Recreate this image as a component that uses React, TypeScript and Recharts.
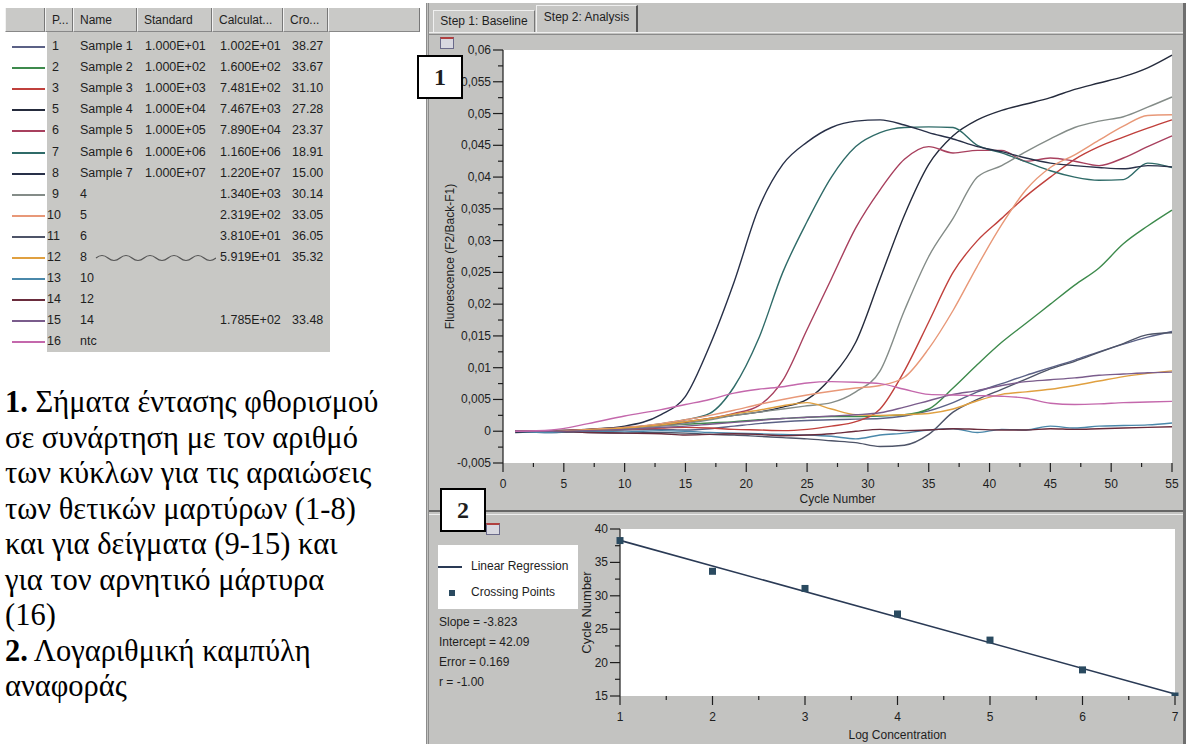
import React from 'react';
import { LineChart, Line, XAxis, YAxis, CartesianGrid, ComposedChart, Scatter } from 'recharts';

// amplification curves, values read at these cycles
const cycles = [1, 4, 7, 10, 13, 15, 17, 19, 21, 23, 25, 27, 29, 31, 33, 35, 37, 39, 41, 43, 45, 47, 49, 51, 53, 55];

const p1 = [0, -0.0002, 0, 0.0002, 0.0003, 0.0002, 0.0004, 0.0008, 0.0012, 0.0015, 0.0017, 0.0018, 0.0019, 0.002, 0.0024, 0.0032, 0.0045, 0.0062, 0.0075, 0.0088, 0.01, 0.0112, 0.0125, 0.0137, 0.0148, 0.0157];
const p2 = [0, 0.0001, 0.0003, 0.0006, 0.0009, 0.0011, 0.0013, 0.0015, 0.0018, 0.002, 0.0022, 0.0023, 0.0023, 0.0024, 0.0026, 0.0035, 0.0068, 0.0105, 0.014, 0.017, 0.02, 0.023, 0.0257, 0.0295, 0.0323, 0.0348];
const p3 = [0, 0, 0.0002, 0.0003, 0.0005, 0.0006, 0.0005, 0.0003, 0.0002, 0.0001, 0.0003, 0.0008, 0.0015, 0.0035, 0.0095, 0.0172, 0.025, 0.03, 0.0335, 0.037, 0.04, 0.0428, 0.0448, 0.0463, 0.0477, 0.049];
const p5 = [0, 0, 0.0002, 0.0005, 0.001, 0.0014, 0.002, 0.0025, 0.003, 0.0038, 0.005, 0.0085, 0.014, 0.024, 0.034, 0.042, 0.0465, 0.049, 0.0505, 0.0515, 0.0525, 0.0538, 0.0548, 0.0558, 0.0572, 0.0592];
const p6 = [0, 0.0001, 0.0003, 0.0006, 0.001, 0.0015, 0.002, 0.0028, 0.004, 0.008, 0.016, 0.024, 0.032, 0.038, 0.0428, 0.0448, 0.0438, 0.0442, 0.0442, 0.0425, 0.043, 0.0425, 0.0418, 0.043, 0.0448, 0.0465];
const p7 = [0, 0, 0.0002, 0.0005, 0.0012, 0.0018, 0.0028, 0.007, 0.0145, 0.025, 0.033, 0.04, 0.0448, 0.047, 0.0478, 0.0479, 0.0478, 0.045, 0.0438, 0.0424, 0.041, 0.04, 0.0395, 0.0396, 0.0422, 0.0415];
const p8 = [-0.0002, 0, 0.0003, 0.0008, 0.0026, 0.0055, 0.0135, 0.0235, 0.035, 0.042, 0.0455, 0.0478, 0.0488, 0.049, 0.0482, 0.047, 0.046, 0.0448, 0.044, 0.043, 0.0422, 0.0418, 0.0415, 0.0413, 0.0418, 0.0416];
const p9 = [0, 0, 0.0001, 0.0003, 0.0008, 0.0012, 0.0018, 0.0025, 0.003, 0.0035, 0.004, 0.0045, 0.0062, 0.0095, 0.019, 0.0275, 0.0335, 0.04, 0.0418, 0.044, 0.046, 0.0478, 0.0488, 0.0495, 0.051, 0.0526];
const p10 = [0, 0, 0.0003, 0.0006, 0.0012, 0.0018, 0.0025, 0.0033, 0.0042, 0.005, 0.0057, 0.0063, 0.0068, 0.0072, 0.0085, 0.013, 0.019, 0.026, 0.0325, 0.038, 0.0415, 0.0435, 0.0458, 0.048, 0.0497, 0.0498];
const p11 = [0, 0, -0.0002, -0.0003, -0.0002, -0.0003, -0.0005, -0.0006, -0.0008, -0.001, -0.0012, -0.0015, -0.0018, -0.0024, -0.0022, -0.0005, 0.003, 0.005, 0.0066, 0.0082, 0.0098, 0.011, 0.0124, 0.0138, 0.0152, 0.0155];
const p12 = [0, 0, 0.0002, 0.0005, 0.001, 0.0015, 0.002, 0.0027, 0.0033, 0.004, 0.0045, 0.0035, 0.0026, 0.0025, 0.0026, 0.0028, 0.0035, 0.0048, 0.0058, 0.0062, 0.0066, 0.0072, 0.0079, 0.0086, 0.0091, 0.0095];
const p13 = [0, -0.0002, 0, -0.0001, 0.0001, 0, -0.0002, -0.0003, -0.0004, -0.0005, -0.0006, -0.0008, -0.0012, -0.0006, -0.0003, 0.0002, 0.0004, -0.0002, 0.0003, 0.0002, 0.0008, 0.0005, 0.0008, 0.0009, 0.001, 0.0013];
const p14 = [0, 0, -0.0002, -0.0003, -0.0004, -0.0006, -0.0005, -0.0004, -0.0005, -0.0007, -0.0006, -0.0004, 0, 0.0003, 0.0001, 0.0002, 0.0004, 0.0003, 0.0002, 0.0002, 0.0004, 0.0003, 0.0004, 0.0005, 0.0006, 0.0007];
const p15 = [0, 0, 0.0001, 0.0003, 0.0006, 0.0008, 0.0011, 0.0014, 0.0017, 0.002, 0.0022, 0.0024, 0.0026, 0.0029, 0.0038, 0.0048, 0.0058, 0.0064, 0.0072, 0.0078, 0.0081, 0.0084, 0.0088, 0.009, 0.0092, 0.0093];
const p16 = [0, 0.0002, 0.0012, 0.0024, 0.0034, 0.0042, 0.005, 0.006, 0.0066, 0.007, 0.0076, 0.0078, 0.0077, 0.0075, 0.0066, 0.0058, 0.0057, 0.0056, 0.0055, 0.0052, 0.0044, 0.0042, 0.0043, 0.0045, 0.0046, 0.0047];

// sample table
const tablePos = ['1', '2', '3', '5', '6', '7', '8', '9', '10', '11', '12', '13', '14', '15', '16'];
const tableName = ['Sample 1', 'Sample 2', 'Sample 3', 'Sample 4', 'Sample 5', 'Sample 6', 'Sample 7', '4', '5', '6', '8', '10', '12', '14', 'ntc'];
const tableStandard = ['1.000E+01', '1.000E+02', '1.000E+03', '1.000E+04', '1.000E+05', '1.000E+06', '1.000E+07', '', '', '', '', '', '', '', ''];
const tableCalc = ['1.002E+01', '1.600E+02', '7.481E+02', '7.467E+03', '7.890E+04', '1.160E+06', '1.220E+07', '1.340E+03', '2.319E+02', '3.810E+01', '5.919E+01', '', '', '1.785E+02', ''];
const tableCp = ['38.27', '33.67', '31.10', '27.28', '23.37', '18.91', '15.00', '30.14', '33.05', '36.05', '35.32', '', '', '33.48', ''];
const seriesValues = [p1, p2, p3, p5, p6, p7, p8, p9, p10, p11, p12, p13, p14, p15, p16];
const seriesColors = ['#5b6186', '#3d8a4c', '#c0403c', '#252b3c', '#a8405e', '#2f6b68', '#283048', '#848c88', '#e89878', '#4e5468', '#e0a040', '#4a88aa', '#6a2c3c', '#7a5c8c', '#c468ac'];

// top chart ticks
const topYMajor = [-0.005, 0, 0.005, 0.01, 0.015, 0.02, 0.025, 0.03, 0.035, 0.04, 0.045, 0.05, 0.055, 0.06];
const topXMajor = [0, 5, 10, 15, 20, 25, 30, 35, 40, 45, 50, 55];

// standard curve
const logConc = [1, 2, 3, 4, 5, 6, 7];
const crossing = [38.27, 33.67, 31.1, 27.28, 23.37, 18.91, 15.0];
const regX = [1, 7];
const regY = [38.3, 15.3];
const botYMajor = [15, 20, 25, 30, 35, 40];
const botXMajor = [1, 2, 3, 4, 5, 6, 7];
const regStats = ['Slope = -3.823', 'Intercept = 42.09', 'Error = 0.169', 'r = -1.00'];

const captionLines: [string, string][] = [
  ['1.', ' Σήματα έντασης φθορισμού'],
  ['', 'σε συνάρτηση με τον αριθμό'],
  ['', 'των κύκλων για τις αραιώσεις'],
  ['', 'των θετικών μαρτύρων (1-8)'],
  ['', 'και για δείγματα (9-15) και'],
  ['', 'για τον αρνητικό μάρτυρα'],
  ['', '(16)'],
  ['2.', ' Λογαριθμική καμπύλη'],
  ['', 'αναφοράς'],
];

const curveData = cycles.map((c, i) => {
  const row: any = { cycle: c };
  seriesValues.forEach((vals, k) => { row['p' + tablePos[k]] = vals[i]; });
  return row;
});
const pointData = logConc.map((x, i) => ({ x, y: crossing[i] }));
const regData = regX.map((x, i) => ({ x, y: regY[i] }));

const withMinor = (major: number[], step: number) => {
  const out: number[] = [];
  major.forEach((v, i) => {
    out.push(v);
    if (i < major.length - 1) out.push(+(v + step / 2).toFixed(5));
  });
  return out;
};
const isIn = (list: number[], v: number) => list.some((m) => Math.abs(m - v) < 1e-7);

const SANS = '"Liberation Sans", Arial, sans-serif';
const INK = '#1e1e1e';
const fmtComma = (v: number) => String(+v.toFixed(4)).replace('.', ',');

const YTick = ({ x, y, payload, major, fmt }: any) => {
  const m = isIn(major, payload.value);
  const len = m ? 10 : 5;
  return (
    <g>
      <line x1={x - len} y1={y} x2={x} y2={y} stroke={INK} strokeWidth={1.2} />
      {m && (
        <text x={x - 12} y={y + 4} textAnchor="end" fontSize={12} fill={INK} fontFamily={SANS}>
          {fmt(payload.value)}
        </text>
      )}
    </g>
  );
};

const XTick = ({ x, y, payload, major }: any) => {
  const m = isIn(major, payload.value);
  const len = m ? 9 : 4;
  return (
    <g>
      <line x1={x} y1={y} x2={x} y2={y + len} stroke={INK} strokeWidth={1.2} />
      {m && (
        <text x={x} y={y + 25} textAnchor="middle" fontSize={12} fill={INK} fontFamily={SANS}>
          {payload.value}
        </text>
      )}
    </g>
  );
};

const SquareDot = (props: any) => (
  <rect x={props.cx - 3.5} y={props.cy - 3.5} width={7} height={7} fill="#2a4a60" />
);

const NumBox = ({ left, top, n }: { left: number; top: number; n: string }) => (
  <div style={{ position: 'absolute', left, top, width: 46, height: 44, background: '#fff', border: '2px solid #000', boxSizing: 'border-box', display: 'flex', alignItems: 'center', justifyContent: 'center', fontFamily: '"Liberation Serif", serif', fontWeight: 'bold', fontSize: 24 }}>
    {n}
  </div>
);

const Icon = ({ left, top }: { left: number; top: number }) => (
  <div style={{ position: 'absolute', left, top, width: 14, height: 12, border: '1px solid #6a6a8a', borderTop: '2px solid #b04040', background: '#d8d8e0', boxSizing: 'border-box' }} />
);

const App = () => {
  const topYTicks = withMinor(topYMajor, 0.005);
  const topXTicks = withMinor(topXMajor, 5);
  const botYTicks = withMinor(botYMajor, 5);
  const botXTicks = withMinor(botXMajor, 1);
  const headerCols = [
    { x: 5, w: 40, t: '' },
    { x: 45, w: 28, t: 'P...' },
    { x: 73, w: 64, t: 'Name' },
    { x: 137, w: 75, t: 'Standard' },
    { x: 212, w: 71, t: 'Calculat...' },
    { x: 283, w: 45, t: 'Cro...' },
    { x: 328, w: 92, t: '' },
  ];

  return (
    <div style={{ position: 'absolute', left: 0, top: 0, width: 1195, height: 744, background: '#fff', overflow: 'hidden', fontFamily: SANS, color: INK }}>
      {/* table header */}
      {headerCols.map((c, i) => (
        <div key={i} style={{ position: 'absolute', left: c.x, top: 8, width: c.w, height: 24, background: '#c9c9c7', borderRight: '1px solid #777', borderLeft: '1px solid #f2f2f2', borderBottom: '1px solid #888', boxSizing: 'border-box', fontSize: 12, lineHeight: '24px', paddingLeft: 6, whiteSpace: 'nowrap', overflow: 'hidden' }}>
          {c.t}
        </div>
      ))}
      <div style={{ position: 'absolute', left: 47, top: 32, width: 283, height: 320, background: '#c8c8c5' }} />
      {tablePos.map((p, i) => {
        const top = 36 + i * 21.1;
        return (
          <div key={p} style={{ position: 'absolute', left: 0, top, width: 330, height: 21, fontSize: 12.5, lineHeight: '21px' }}>
            <div style={{ position: 'absolute', left: 12, top: 10, width: 33, height: 2, background: seriesColors[i] }} />
            <div style={{ position: 'absolute', left: p.length > 1 ? 47 : 52 }}>{p}</div>
            <div style={{ position: 'absolute', left: 80 }}>{tableName[i]}</div>
            <div style={{ position: 'absolute', left: 145 }}>{tableStandard[i]}</div>
            <div style={{ position: 'absolute', left: 220 }}>{tableCalc[i]}</div>
            <div style={{ position: 'absolute', left: 292 }}>{tableCp[i]}</div>
          </div>
        );
      })}
      <svg style={{ position: 'absolute', left: 94, top: 252 }} width={122} height={12}>
        <path d="M2 6 q6 -5 12 0 t12 0 t12 0 t12 0 t12 0 t12 0 t12 0 t12 0 t12 0 t12 0" fill="none" stroke="#555" strokeWidth={1.2} />
      </svg>

      {/* caption */}
      <div style={{ position: 'absolute', left: 5, top: 385, width: 415, fontFamily: '"Liberation Serif", "Times New Roman", serif', fontSize: 30.5, lineHeight: '35.5px', color: '#000' }}>
        {captionLines.map(([b, t], i) => (
          <div key={i} style={{ whiteSpace: 'nowrap' }}>
            {b && <b>{b}</b>}
            {t}
          </div>
        ))}
      </div>

      {/* window */}
      <div style={{ position: 'absolute', left: 426, top: 3, width: 760, height: 741, background: '#c3c3c1', borderLeft: '3px double #8c8c8c', borderRight: '3px solid #6e6e6e', boxSizing: 'border-box' }} />
      <div style={{ position: 'absolute', left: 433, top: 10, width: 102, height: 22, background: '#cbcbc9', borderTop: '1px solid #f0f0f0', borderLeft: '1px solid #f0f0f0', borderRight: '1px solid #777', boxSizing: 'border-box', fontSize: 12, lineHeight: '21px', textAlign: 'center' }}>
        Step 1: Baseline
      </div>
      <div style={{ position: 'absolute', left: 536, top: 5, width: 102, height: 28, background: '#c6c6c4', borderTop: '1px solid #f0f0f0', borderLeft: '1px solid #f0f0f0', borderRight: '2px solid #555', boxSizing: 'border-box', fontSize: 12, lineHeight: '22px', textAlign: 'center' }}>
        Step 2: Analysis
      </div>
      <div style={{ position: 'absolute', left: 429, top: 32, width: 754, height: 3, borderTop: '1px solid #efefef', borderBottom: '1px solid #8a8a8a', boxSizing: 'border-box' }} />
      <div style={{ position: 'absolute', left: 429, top: 510, width: 754, height: 5, borderTop: '2px solid #666', borderBottom: '1px solid #eee', boxSizing: 'border-box' }} />
      <Icon left={440} top={37} />
      <Icon left={486} top={523} />

      {/* amplification curves */}
      <div style={{ position: 'absolute', left: 426, top: 35 }}>
        <LineChart width={760} height={477} data={curveData} margin={{ top: 15, right: 14, bottom: 0, left: 0 }}>
          <CartesianGrid fill="#ffffff" stroke="none" horizontal={false} vertical={false} />
          <XAxis
            xAxisId={0}
            type="number"
            dataKey="cycle"
            domain={[0, 55]}
            ticks={topXTicks}
            interval={0}
            height={49}
            axisLine={false}
            tickLine={false}
            tickSize={0}
            tickMargin={0}
            tick={(props: any) => <XTick {...props} major={topXMajor} />}
            label={{ value: 'Cycle Number', position: 'insideBottom', offset: 9, fontSize: 12, fill: INK, fontFamily: SANS }}
          />
          <XAxis xAxisId="top" orientation="top" type="number" domain={[0, 55]} height={0} tick={false} axisLine={{ stroke: '#8a8a8a', strokeWidth: 2 }} tickLine={false} />
          <YAxis
            type="number"
            domain={[-0.005, 0.06]}
            allowDataOverflow
            ticks={topYTicks}
            interval={0}
            width={77}
            axisLine={{ stroke: INK, strokeWidth: 1.2 }}
            tickLine={false}
            tickSize={0}
            tickMargin={0}
            tick={(props: any) => <YTick {...props} major={topYMajor} fmt={fmtComma} />}
            label={{ value: 'Fluorescence (F2/Back-F1)', angle: -90, position: 'insideLeft', offset: 24, fontSize: 12, fill: INK, fontFamily: SANS, style: { textAnchor: 'middle' } }}
          />
          {tablePos.map((p, i) => (
            <Line
              key={p}
              type="monotone"
              dataKey={'p' + p}
              stroke={seriesColors[i]}
              strokeWidth={1.4}
              dot={false}
              isAnimationActive={false}
            />
          ))}
        </LineChart>
      </div>

      {/* standard curve legend & stats */}
      <div style={{ position: 'absolute', left: 438, top: 545, width: 140, height: 64, background: '#fff', fontSize: 12 }}>
        <div style={{ position: 'absolute', left: 0, top: 21, width: 24, height: 2, background: '#2a3a55' }} />
        <div style={{ position: 'absolute', left: 33, top: 14 }}>Linear Regression</div>
        <div style={{ position: 'absolute', left: 11, top: 45, width: 6, height: 6, background: '#2a4a60' }} />
        <div style={{ position: 'absolute', left: 33, top: 40 }}>Crossing Points</div>
      </div>
      {regStats.map((s, i) => (
        <div key={s} style={{ position: 'absolute', left: 439, top: 615 + i * 20, fontSize: 12 }}>{s}</div>
      ))}

      <div style={{ position: 'absolute', left: 560, top: 514 }}>
        <ComposedChart width={626} height={230} margin={{ top: 15, right: 11, bottom: 0, left: 0 }}>
          <CartesianGrid fill="#ffffff" stroke="none" horizontal={false} vertical={false} />
          <XAxis
            xAxisId={0}
            type="number"
            dataKey="x"
            domain={[1, 7]}
            ticks={botXTicks}
            interval={0}
            height={48}
            axisLine={false}
            tickLine={false}
            tickSize={0}
            tickMargin={0}
            tick={(props: any) => <XTick {...props} major={botXMajor} />}
            label={{ value: 'Log Concentration', position: 'insideBottom', offset: 5, fontSize: 12, fill: INK, fontFamily: SANS }}
          />
          <XAxis xAxisId="top" orientation="top" type="number" domain={[1, 7]} height={0} tick={false} axisLine={{ stroke: '#7a7a7a', strokeWidth: 2 }} tickLine={false} />
          <YAxis
            type="number"
            domain={[15, 40]}
            allowDataOverflow
            ticks={botYTicks}
            interval={0}
            width={60}
            axisLine={{ stroke: INK, strokeWidth: 1.2 }}
            tickLine={false}
            tickSize={0}
            tickMargin={0}
            tick={(props: any) => <YTick {...props} major={botYMajor} fmt={(v: number) => String(v)} />}
            label={{ value: 'Cycle Number', angle: -90, position: 'insideLeft', offset: 26, fontSize: 13, fill: INK, fontFamily: SANS, style: { textAnchor: 'middle' } }}
          />
          <Line data={regData} dataKey="y" type="linear" stroke="#2a3a55" strokeWidth={1.6} dot={false} isAnimationActive={false} />
          <Scatter data={pointData} dataKey="y" shape={<SquareDot />} isAnimationActive={false} />
        </ComposedChart>
      </div>

      <NumBox left={417} top={55} n="1" />
      <NumBox left={440} top={488} n="2" />
    </div>
  );
};

export default App;
